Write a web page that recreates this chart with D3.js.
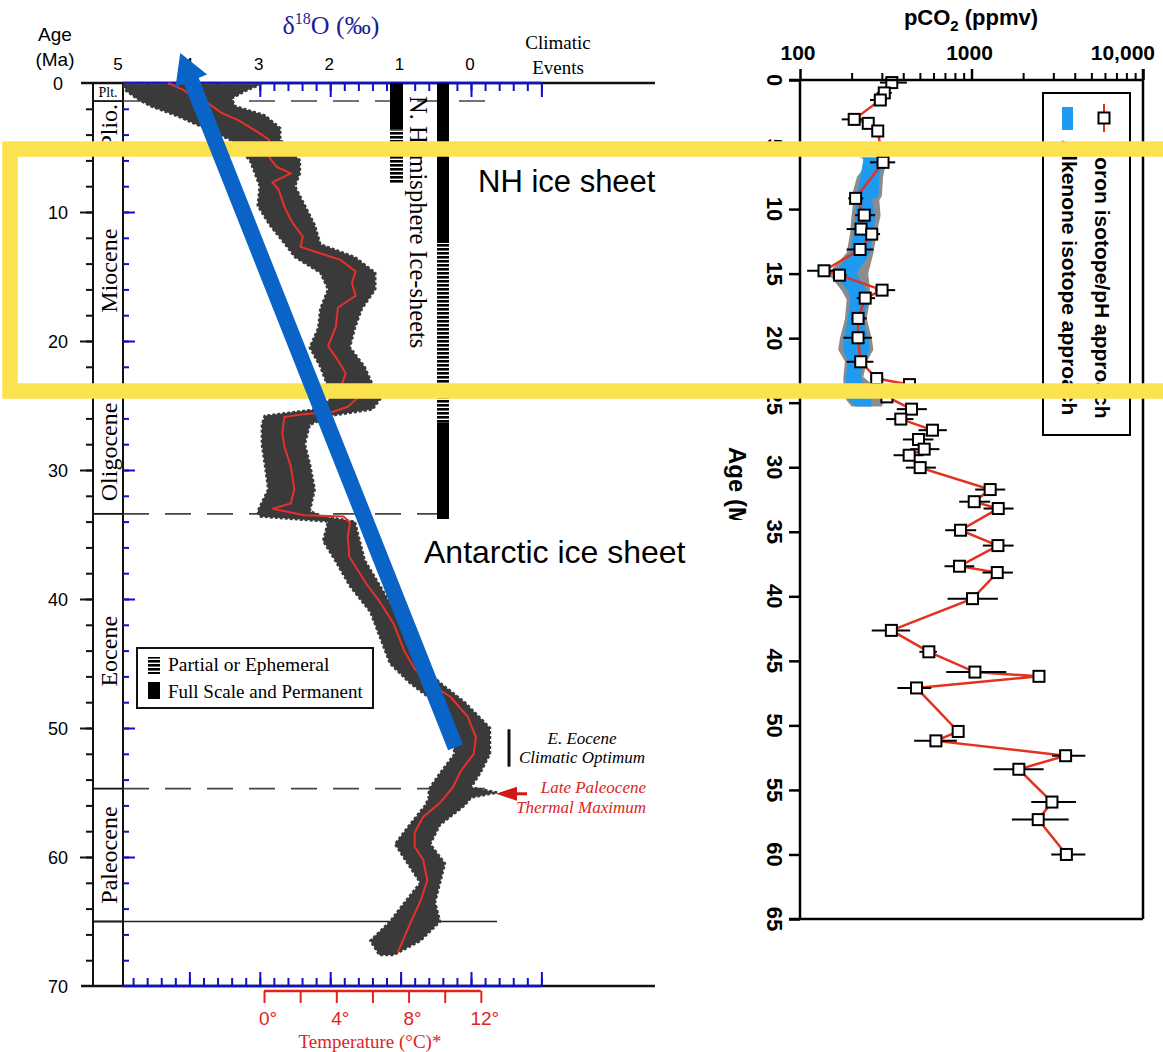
<!DOCTYPE html>
<html>
<head>
<meta charset="utf-8">
<script src="https://cdn.jsdelivr.net/npm/d3@7"></script>
<style>
  body { margin: 0; background: #fff; }
  .sans { font-family: "Liberation Sans", Arial, Helvetica, sans-serif; }
  .serif { font-family: "Liberation Serif", "Times New Roman", Times, serif; }
</style>
</head>
<body>
<div id="chart"></div>
<script>
// ---------------- data: left panel (benthic d18O, Ma) ----------------
const epochNames = ["Plt.", "Plio.", "Miocene", "Oligocene", "Eocene", "Paleocene", ""];
const epochBounds = [0, 1.4, 5.3, 23.8, 33.4, 54.7, 65, 70];
const ageTickLabels = [0, 10, 20, 30, 40, 50, 60, 70];
const d18TickLabels = [5, 4, 3, 2, 1, 0];
const tempTicks = [0, 2, 4, 6, 8, 10, 12];
const tempTickLabels = [0, 4, 8, 12];

// smoothed curve [age, d18O]
const d18Curve = [
  [0, 4.3], [0.5, 4.1], [1.0, 3.95], [1.5, 3.75], [2.3, 3.55], [2.9, 3.3], [3.4, 3.15], [3.9, 3.0],
  [4.4, 2.87], [5.8, 2.86], [6.5, 2.76], [7.0, 2.56], [7.7, 2.82], [8.3, 2.73], [9.6, 2.65],
  [10.8, 2.54], [11.9, 2.39], [12.7, 2.42], [13.3, 2.09], [13.7, 1.86], [14.6, 1.64], [15.5, 1.69],
  [16.5, 1.64], [17.4, 1.89], [18.9, 1.92], [20.4, 2.03], [21.5, 1.89], [22.5, 1.78], [23.3, 1.83],
  [24.4, 1.61], [25.1, 1.75], [25.5, 1.97], [25.7, 2.42], [25.9, 2.65], [27.1, 2.68], [28.2, 2.65],
  [29.7, 2.56], [31.5, 2.51], [32.6, 2.56], [33.0, 2.82], [33.5, 2.37], [33.6, 1.81], [34.1, 1.72],
  [35.2, 1.75], [36.7, 1.73], [38.8, 1.49], [40.1, 1.31], [41.9, 1.10], [44.0, 0.95], [45.4, 0.80],
  [46.3, 0.65], [47.6, 0.29], [49.1, 0.05], [50.7, -0.07], [52.0, -0.04], [53.3, 0.14], [54.6, 0.26],
  [55.8, 0.44], [56.9, 0.68], [58.1, 0.80], [59.2, 0.80], [60.2, 0.68], [61.8, 0.62], [63.3, 0.71],
  [65.1, 0.86], [67.4, 1.04]
];

// spread of the individual measurements [age, max d18O, min d18O]
const d18Spread = [
  [0.1, 4.94, 2.98], [0.6, 4.9, 3.2], [1.2, 4.75, 3.4], [1.8, 4.55, 3.35], [2.5, 4.2, 2.93],
  [3.5, 3.78, 2.71], [4.4, 3.42, 2.71], [6.0, 3.14, 2.43], [7.0, 3.07, 2.43], [8.0, 3.0, 2.5],
  [9.5, 3.03, 2.36], [11.0, 2.86, 2.22], [12.5, 2.64, 2.14], [13.5, 2.5, 1.65], [14.7, 2.14, 1.36],
  [16.0, 2.03, 1.36], [17.5, 2.14, 1.55], [19.0, 2.17, 1.65], [20.5, 2.29, 1.72], [22.0, 2.14, 1.51],
  [23.0, 2.07, 1.43], [24.5, 2.0, 1.29], [25.3, 2.2, 1.4], [25.8, 2.93, 2.0], [26.5, 2.97, 2.29],
  [28.0, 2.97, 2.36], [29.5, 2.93, 2.29], [31.5, 2.88, 2.22], [33.2, 3.03, 2.29], [33.6, 3.0, 2.1],
  [34.0, 2.03, 1.65], [35.5, 2.1, 1.58], [37.0, 1.93, 1.51], [39.0, 1.72, 1.29], [41.0, 1.43, 1.08],
  [43.0, 1.29, 0.94], [45.0, 1.15, 0.72], [46.5, 0.87, 0.44], [48.0, 0.51, 0.09], [50.0, 0.30, -0.27],
  [52.0, 0.23, -0.27], [53.5, 0.44, -0.13], [54.6, 0.58, 0.0], [55.0, 0.6, -0.37], [55.4, 0.6, 0.0],
  [56.0, 0.65, 0.09], [57.5, 0.87, 0.44], [59.0, 1.08, 0.58], [60.5, 0.9, 0.37], [62.0, 0.72, 0.44],
  [63.5, 0.94, 0.51], [65.0, 1.15, 0.44], [66.5, 1.43, 0.72], [67.6, 1.3, 1.1]
];

// ice-sheet bars [from age, to age, kind]
const nhIce = [[0, 3.6, "full"], [3.6, 7.8, "partial"]];
const antIce = [[0, 12.4, "full"], [12.4, 26.3, "partial"], [26.3, 33.8, "full"]];

// ---------------- data: right panel (pCO2) ----------------
const boronAge = [0.2, 1.0, 1.55, 3.05, 3.36, 3.95, 6.38, 9.17, 10.47, 11.55, 11.94, 13.13, 14.78, 15.12,
  16.28, 16.9, 18.47, 19.97, 21.83, 23.13, 23.6, 24.55, 25.5, 26.27, 27.13, 27.85, 28.6, 29.07, 30.03,
  31.73, 32.67, 33.2, 34.88, 36.07, 37.67, 38.16, 40.18, 42.64, 44.3, 45.87, 46.2, 47.1, 50.47, 51.2,
  52.35, 53.4, 55.94, 57.3, 60.0];
const boronCO2 = [343, 310, 294, 207, 250, 284, 305, 211, 237, 227, 262, 224, 138, 170, 301, 240, 218, 218,
  226, 280, 435, 321, 447, 387, 592, 491, 530, 433, 502, 1285, 1037, 1432, 863, 1426, 851, 1413, 1014, 341,
  564, 1047, 2474, 478, 836, 620, 3538, 1888, 2945, 2449, 3574];
const boronLo = [293, 280, 256, 175, 234, 262, 256, 191, 210, 187, 240, 187, 110, 157, 274, 214, 200, 179,
  187, 256, 410, 293, 367, 318, 491, 398, 439, 351, 414, 1051, 848, 1175, 702, 1165, 696, 1160, 725, 262,
  497, 712, 2301, 370, 785, 463, 2947, 1345, 2231, 1720, 2917];
const boronHi = [420, 343, 321, 251, 268, 306, 359, 234, 274, 280, 293, 268, 171, 187, 359, 274, 245, 262,
  268, 306, 469, 351, 549, 459, 718, 600, 650, 525, 620, 1573, 1285, 1760, 1065, 1760, 1037, 1743, 1426, 439,
  628, 1595, 2634, 582, 898, 822, 4610, 2634, 4065, 3686, 4610];

const alkAge = [6.0, 6.2, 7.5, 9.0, 9.3, 10.5, 11.9, 13.4, 15.0, 16.3, 17.0, 18.5, 20.0, 20.9, 21.8, 23.0, 24.5, 25.3];
const alkRangeLo = [220, 256, 215, 200, 205, 200, 196, 187, 146, 175, 187, 183, 171, 167, 183, 179, 179, 200];
const alkRangeHi = [300, 321, 305, 300, 290, 295, 280, 268, 250, 256, 256, 245, 262, 268, 245, 234, 320, 300];
const alkCoreLo = [230, 234, 225, 214, 214, 210, 205, 196, 157, 190, 196, 190, 180, 178, 190, 185, 183, 210];
const alkCoreHi = [290, 306, 290, 287, 262, 275, 268, 256, 214, 245, 250, 234, 250, 256, 234, 225, 260, 260];
const co2TickLabels = [100, 1000, 10000];
const age2TickLabels = [0, 5, 10, 15, 20, 25, 30, 35, 40, 45, 50, 55, 60, 65];

// ---------------- setup ----------------
const width = 1163, height = 1052;
const blue = "#1010c8", red = "#e0241c";

const svg = d3.select("#chart").append("svg")
  .attr("width", width).attr("height", height)
  .style("background", "#fff");

const defs = svg.append("defs");
defs.append("pattern").attr("id", "stripes")
  .attr("patternUnits", "userSpaceOnUse").attr("width", 20).attr("height", 4)
  .append("rect").attr("width", 20).attr("height", 2.6).attr("fill", "#000");
defs.append("clipPath").attr("id", "ageClip")
  .append("rect").attr("x", 700).attr("y", 400).attr("width", 80).attr("height", 120);

// ================= LEFT PANEL =================
const x18 = d3.scaleLinear().domain([5, -1]).range([119, 541.4]);
const yAge = d3.scaleLinear().domain([0, 70]).range([83, 986]);
const xTemp = d3.scaleLinear().domain([0, 12]).range([x18(2.94), x18(-0.14)]);

const left = svg.append("g");

// horizontal frame lines (black) top & bottom
[0, 70].forEach(a => {
  left.append("line").attr("x1", 81).attr("x2", 655)
    .attr("y1", yAge(a)).attr("y2", yAge(a))
    .attr("stroke", "#111").attr("stroke-width", 2.5);
});

// epoch column
left.append("line").attr("x1", 93).attr("x2", 93).attr("y1", yAge(0)).attr("y2", yAge(70))
  .attr("stroke", "#111").attr("stroke-width", 2);
left.append("line").attr("x1", 123).attr("x2", 123).attr("y1", yAge(0)).attr("y2", yAge(70))
  .attr("stroke", "#111").attr("stroke-width", 2);
epochBounds.slice(1, -1).forEach(b => {
  left.append("line").attr("x1", 93).attr("x2", 123).attr("y1", yAge(b)).attr("y2", yAge(b))
    .attr("stroke", "#111").attr("stroke-width", 1.8);
});

// dashed epoch boundaries & K/Pg line
[[1.4, 500], [33.4, 456], [54.7, 500]].forEach(([a, xEnd]) => {
  left.append("line").attr("x1", 123).attr("x2", xEnd).attr("y1", yAge(a)).attr("y2", yAge(a))
    .attr("stroke", "#444").attr("stroke-width", 1.6).attr("stroke-dasharray", "26,16");
});
left.append("line").attr("x1", 93).attr("x2", 497).attr("y1", yAge(65)).attr("y2", yAge(65))
  .attr("stroke", "#222").attr("stroke-width", 1.6);

// epoch labels
epochNames.forEach((name, i) => {
  if (!name) return;
  const mid = (yAge(epochBounds[i]) + yAge(epochBounds[i + 1])) / 2;
  if (name === "Plt.") {
    left.append("text").attr("class", "serif").attr("x", 108).attr("y", mid + 5)
      .attr("text-anchor", "middle").attr("font-size", 14).text(name);
  } else {
    left.append("text").attr("class", "serif")
      .attr("transform", `translate(117,${mid}) rotate(-90)`)
      .attr("text-anchor", "middle").attr("font-size", 24).text(name);
  }
});

// black age ticks left of epoch column
left.append("g").attr("transform", "translate(93,0)")
  .call(d3.axisLeft(yAge).tickValues(d3.range(2, 70, 2)).tickSize(7).tickFormat(""))
  .call(g => g.select(".domain").remove())
  .call(g => g.selectAll("line").attr("stroke", "#111").attr("stroke-width", 2));
left.append("g").attr("transform", "translate(93,0)")
  .call(d3.axisLeft(yAge).tickValues(d3.range(10, 70, 10)).tickSize(13).tickFormat(""))
  .call(g => g.select(".domain").remove())
  .call(g => g.selectAll("line").attr("stroke", "#111").attr("stroke-width", 2));

// blue age ticks
left.append("g").attr("transform", "translate(123,0)")
  .call(d3.axisRight(yAge).tickValues(d3.range(2, 70, 2)).tickSize(6).tickFormat(""))
  .call(g => g.select(".domain").remove())
  .call(g => g.selectAll("line").attr("stroke", blue).attr("stroke-width", 2));
left.append("g").attr("transform", "translate(123,0)")
  .call(d3.axisRight(yAge).tickValues(d3.range(10, 70, 10)).tickSize(12).tickFormat(""))
  .call(g => g.select(".domain").remove())
  .call(g => g.selectAll("line").attr("stroke", blue).attr("stroke-width", 2));

// age labels
left.selectAll(".agelab").data(ageTickLabels).enter().append("text")
  .attr("class", "sans").attr("x", 58).attr("y", d => yAge(d) + 6.5)
  .attr("text-anchor", "middle").attr("font-size", 18).text(d => d);
left.append("text").attr("class", "sans").attr("x", 55).attr("y", 41)
  .attr("text-anchor", "middle").attr("font-size", 19).text("Age");
left.append("text").attr("class", "sans").attr("x", 55).attr("y", 66)
  .attr("text-anchor", "middle").attr("font-size", 19).text("(Ma)");

// d18O top & bottom blue axes
const minorD = d3.range(0, 30).map(i => +(4.8 - i * 0.2).toFixed(1));
const majorD = [4, 3, 2, 1, 0, -1];
function blueAxis(y, dir) {
  const ax = dir === "down" ? d3.axisBottom : d3.axisTop;
  left.append("line").attr("x1", 123).attr("x2", x18(-1)).attr("y1", y).attr("y2", y)
    .attr("stroke", blue).attr("stroke-width", 2.5);
  [[minorD, 8], [majorD, 14]].forEach(([vals, size]) => {
    left.append("g").attr("transform", `translate(0,${y})`)
      .call(ax(x18).tickValues(vals).tickSize(size).tickFormat(""))
      .call(g => g.select(".domain").remove())
      .call(g => g.selectAll("line").attr("stroke", blue).attr("stroke-width", 2));
  });
}
blueAxis(yAge(0), "down");
blueAxis(yAge(70), "up");

left.selectAll(".dlab").data(d18TickLabels).enter().append("text")
  .attr("class", "sans").attr("x", d => x18(d) - 1).attr("y", 70)
  .attr("text-anchor", "middle").attr("font-size", 17).text(d => d);

const title18 = left.append("text").attr("class", "serif")
  .attr("x", 331).attr("y", 34).attr("text-anchor", "middle")
  .attr("font-size", 26).attr("fill", "#1d1d96");
title18.append("tspan").text("\u03B4");
title18.append("tspan").attr("font-size", 16).attr("dy", -10).text("18");
title18.append("tspan").attr("dy", 10).text("O (\u2030)");

left.append("text").attr("class", "serif").attr("x", 558).attr("y", 49)
  .attr("text-anchor", "middle").attr("font-size", 19).text("Climatic");
left.append("text").attr("class", "serif").attr("x", 558).attr("y", 74)
  .attr("text-anchor", "middle").attr("font-size", 19).text("Events");

// temperature axis
const tY = yAge(70) + 5;
left.append("line").attr("x1", xTemp(0)).attr("x2", xTemp(12)).attr("y1", tY).attr("y2", tY)
  .attr("stroke", red).attr("stroke-width", 2.5);
left.append("g").attr("transform", `translate(0,${tY})`)
  .call(d3.axisBottom(xTemp).tickValues(tempTicks).tickSize(12).tickFormat(""))
  .call(g => g.select(".domain").remove())
  .call(g => g.selectAll("line").attr("stroke", red).attr("stroke-width", 2));
left.selectAll(".tlab").data(tempTickLabels).enter().append("text")
  .attr("class", "sans").attr("x", d => xTemp(d) + 4).attr("y", 1025)
  .attr("text-anchor", "middle").attr("font-size", 19).attr("fill", red).text(d => d + "\u00B0");
left.append("text").attr("class", "serif").attr("x", 370).attr("y", 1048)
  .attr("text-anchor", "middle").attr("font-size", 19).attr("fill", red).text("Temperature (\u00B0C)*");

// measurement spread
const spreadArea = d3.area()
  .y(d => yAge(d[0])).x0(d => x18(d[1])).x1(d => x18(d[2]));
left.append("path").datum(d18Spread).attr("d", spreadArea)
  .attr("fill", "#3a3a3a").attr("stroke", "#3a3a3a").attr("stroke-width", 2.5)
  .attr("stroke-dasharray", "3,2");

// smoothed curve
const curveLine = d3.line().x(d => x18(d[1])).y(d => yAge(d[0]));
left.append("path").datum(d18Curve).attr("d", curveLine)
  .attr("fill", "none").attr("stroke", "#e8302a").attr("stroke-width", 2);

// ice bars
function iceBar(data, x0, x1) {
  left.selectAll(null).data(data).enter().append("rect")
    .attr("x", x0).attr("width", x1 - x0)
    .attr("y", d => yAge(d[0])).attr("height", d => yAge(d[1]) - yAge(d[0]))
    .attr("fill", d => d[2] === "full" ? "#000" : "url(#stripes)");
}
iceBar(nhIce, 390, 403);
iceBar(antIce, 437, 449);
left.append("text").attr("class", "serif")
  .attr("transform", "translate(410,96) rotate(90)")
  .attr("font-size", 24.5).text("N. Hemisphere Ice-sheets");

// legend
left.append("rect").attr("x", 137).attr("y", 648).attr("width", 236).attr("height", 60)
  .attr("fill", "#fff").attr("stroke", "#111").attr("stroke-width", 2);
left.append("rect").attr("x", 148).attr("y", 657).attr("width", 12).attr("height", 17)
  .attr("fill", "url(#stripes)");
left.append("rect").attr("x", 148).attr("y", 682).attr("width", 12).attr("height", 17)
  .attr("fill", "#000");
left.append("text").attr("class", "serif").attr("x", 168).attr("y", 671)
  .attr("font-size", 19.5).text("Partial or Ephemeral");
left.append("text").attr("class", "serif").attr("x", 168).attr("y", 698)
  .attr("font-size", 19).text("Full Scale and Permanent");

// climatic event notes
left.append("line").attr("x1", 509).attr("x2", 509).attr("y1", yAge(50.1)).attr("y2", yAge(53.0))
  .attr("stroke", "#111").attr("stroke-width", 3);
left.append("text").attr("class", "serif").attr("x", 582).attr("y", 744)
  .attr("text-anchor", "middle").attr("font-size", 17).attr("font-style", "italic").text("E. Eocene");
left.append("text").attr("class", "serif").attr("x", 582).attr("y", 763)
  .attr("text-anchor", "middle").attr("font-size", 17).attr("font-style", "italic").text("Climatic Optimum");
left.append("text").attr("class", "serif").attr("x", 646).attr("y", 793)
  .attr("text-anchor", "end").attr("font-size", 17).attr("font-style", "italic").attr("fill", red).text("Late Paleocene");
left.append("text").attr("class", "serif").attr("x", 646).attr("y", 813)
  .attr("text-anchor", "end").attr("font-size", 17).attr("font-style", "italic").attr("fill", red).text("Thermal Maximum");
const petmY = yAge(55.1);
left.append("path")
  .attr("d", `M496,${petmY} L517,${petmY - 7} L517,${petmY + 7} Z`).attr("fill", "#d01818");
left.append("line").attr("x1", 515).attr("x2", 527).attr("y1", petmY).attr("y2", petmY)
  .attr("stroke", "#d01818").attr("stroke-width", 3);

// ================= RIGHT PANEL =================
const xCO2 = d3.scaleLog().domain([100, 10000]).range([800, 1143]);
const yAge2 = d3.scaleLinear().domain([0, 65]).range([80, 919]);
const right = svg.append("g");

// alkenone band
const alk = alkAge.map((a, i) => ({ a, lo: alkRangeLo[i], hi: alkRangeHi[i], clo: alkCoreLo[i], chi: alkCoreHi[i] }));
right.append("path").datum(alk)
  .attr("d", d3.area().y(d => yAge2(d.a)).x0(d => xCO2(d.lo)).x1(d => xCO2(d.hi)))
  .attr("fill", "#8c8c8c");
right.append("path").datum(alk)
  .attr("d", d3.area().y(d => yAge2(d.a)).x0(d => xCO2(d.clo)).x1(d => xCO2(d.chi)))
  .attr("fill", "#1e9bf0");

// boron series
const boron = boronAge.map((a, i) => ({ a, v: boronCO2[i], lo: boronLo[i], hi: boronHi[i] }));
right.append("path").datum(boron)
  .attr("d", d3.line().x(d => xCO2(d.v)).y(d => yAge2(d.a)))
  .attr("fill", "none").attr("stroke", "#e4321e").attr("stroke-width", 2.5);
right.selectAll(".err").data(boron).enter().append("line")
  .attr("x1", d => xCO2(d.lo)).attr("x2", d => xCO2(d.hi))
  .attr("y1", d => yAge2(d.a)).attr("y2", d => yAge2(d.a))
  .attr("stroke", "#000").attr("stroke-width", 2);
right.selectAll(".sq").data(boron).enter().append("rect")
  .attr("x", d => xCO2(d.v) - 5.5).attr("y", d => yAge2(d.a) - 5.5)
  .attr("width", 11).attr("height", 11)
  .attr("fill", "#fff").attr("stroke", "#000").attr("stroke-width", 2);

// frame
right.append("line").attr("x1", 789).attr("x2", 1143).attr("y1", yAge2(0)).attr("y2", yAge2(0))
  .attr("stroke", "#000").attr("stroke-width", 2.5);
right.append("line").attr("x1", 789).attr("x2", 1143).attr("y1", yAge2(65)).attr("y2", yAge2(65))
  .attr("stroke", "#000").attr("stroke-width", 2.5);
right.append("line").attr("x1", 800).attr("x2", 800).attr("y1", yAge2(0)).attr("y2", yAge2(65))
  .attr("stroke", "#000").attr("stroke-width", 2.5);
right.append("line").attr("x1", 1143).attr("x2", 1143).attr("y1", yAge2(0) - 11).attr("y2", yAge2(65))
  .attr("stroke", "#000").attr("stroke-width", 2.5);

// top log axis
const minorCO2 = [200, 300, 400, 500, 600, 700, 800, 900, 2000, 3000, 4000, 5000, 6000, 7000, 8000, 9000];
right.append("g").attr("transform", `translate(0,${yAge2(0)})`)
  .call(d3.axisTop(xCO2).tickValues(minorCO2).tickSize(7).tickFormat(""))
  .call(g => g.select(".domain").remove())
  .call(g => g.selectAll("line").attr("stroke", "#000").attr("stroke-width", 2));
right.append("g").attr("transform", `translate(0,${yAge2(0)})`)
  .call(d3.axisTop(xCO2).tickValues(co2TickLabels).tickSize(11).tickFormat(""))
  .call(g => g.select(".domain").remove())
  .call(g => g.selectAll("line").attr("stroke", "#000").attr("stroke-width", 2.5));
right.selectAll(".clab").data(co2TickLabels).enter().append("text")
  .attr("class", "sans").attr("font-size", 21).attr("font-weight", "bold").attr("y", 60)
  .attr("x", d => d === 10000 ? xCO2(d) + 12 : xCO2(d) - 2)
  .attr("text-anchor", d => d === 10000 ? "end" : "middle")
  .text(d => d === 10000 ? "10,000" : d);
const tco2 = right.append("text").attr("class", "sans").attr("x", 971).attr("y", 25)
  .attr("text-anchor", "middle").attr("font-size", 22).attr("font-weight", "bold");
tco2.append("tspan").text("pCO");
tco2.append("tspan").attr("font-size", 15).attr("dy", 6).text("2");
tco2.append("tspan").attr("dy", -6).text(" (ppmv)");

// left age axis
right.append("g").attr("transform", "translate(800,0)")
  .call(d3.axisLeft(yAge2).tickValues(age2TickLabels).tickSize(11).tickFormat(""))
  .call(g => g.select(".domain").remove())
  .call(g => g.selectAll("line").attr("stroke", "#000").attr("stroke-width", 2.5));
right.selectAll(".alab").data(age2TickLabels).enter().append("text")
  .attr("class", "sans").attr("font-size", 22).attr("font-weight", "bold").attr("text-anchor", "middle")
  .attr("transform", d => `translate(767,${yAge2(d)}) rotate(90)`)
  .text(d => d);
right.append("g").attr("clip-path", "url(#ageClip)")
  .append("text").attr("class", "sans")
  .attr("font-size", 24).attr("font-weight", "bold")
  .attr("transform", "translate(729,447) rotate(90)").text("Age (Ma)");

// legend
right.append("rect").attr("x", 1043).attr("y", 93).attr("width", 87).attr("height", 342)
  .attr("fill", "#fff").attr("stroke", "#000").attr("stroke-width", 2);
right.append("rect").attr("x", 1062).attr("y", 107).attr("width", 11).attr("height", 23)
  .attr("fill", "#1e9bf0");
right.append("line").attr("x1", 1104).attr("x2", 1104).attr("y1", 104).attr("y2", 132)
  .attr("stroke", "#e4321e").attr("stroke-width", 2);
right.append("rect").attr("x", 1098.5).attr("y", 112.5).attr("width", 11).attr("height", 11)
  .attr("fill", "#fff").attr("stroke", "#000").attr("stroke-width", 2);
right.append("text").attr("class", "sans").attr("font-size", 21).attr("font-weight", "bold")
  .attr("transform", "translate(1095,142) rotate(90)").text("Boron isotope/pH approach");
right.append("text").attr("class", "sans").attr("font-size", 21).attr("font-weight", "bold")
  .attr("transform", "translate(1062,140) rotate(90)").text("Alkenone isotope approach");

// ================= ANNOTATIONS =================
svg.append("rect").attr("x", 10).attr("y", 149).attr("width", 1200).attr("height", 242)
  .attr("fill", "none").attr("stroke", "#fde24f").attr("stroke-width", 15.5);

svg.append("text").attr("class", "sans").attr("x", 478).attr("y", 192)
  .attr("font-size", 31).text("NH ice sheet");
svg.append("text").attr("class", "sans").attr("x", 424).attr("y", 563)
  .attr("font-size", 32).text("Antarctic ice sheet");

// blue arrow, drawn in d18O/age coordinates
const arrowFrom = { d18: 0.22, age: 51.5 };
const arrowTo = { d18: 4.13, age: -2.33 };
const p0 = [x18(arrowFrom.d18), yAge(arrowFrom.age)];
const p1 = [x18(arrowTo.d18), yAge(arrowTo.age)];
const len = Math.hypot(p1[0] - p0[0], p1[1] - p0[1]);
const ux = (p1[0] - p0[0]) / len, uy = (p1[1] - p0[1]) / len;
const headLen = 30, headHalf = 17;
const base = [p1[0] - ux * headLen, p1[1] - uy * headLen];
svg.append("line").attr("x1", p0[0]).attr("y1", p0[1]).attr("x2", base[0] + ux * 2).attr("y2", base[1] + uy * 2)
  .attr("stroke", "#0a64c8").attr("stroke-width", 16);
svg.append("path")
  .attr("d", `M${p1[0]},${p1[1]} L${base[0] - uy * headHalf},${base[1] + ux * headHalf} L${base[0] + uy * headHalf},${base[1] - ux * headHalf} Z`)
  .attr("fill", "#0a64c8");
</script>
</body>
</html>
